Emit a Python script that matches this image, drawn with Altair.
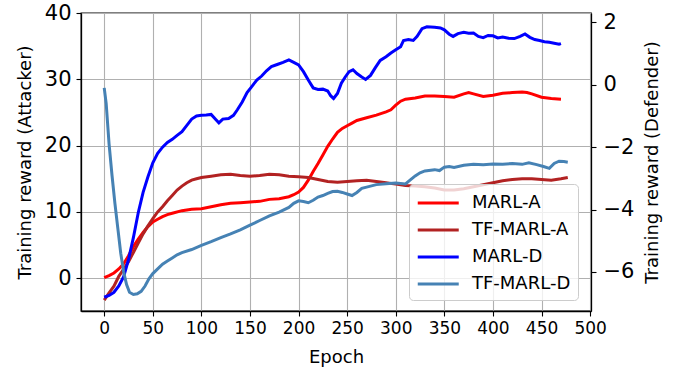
import altair as alt
import pandas as pd

# Series names and colours (legend order)
series_names = ["MARL-A", "TF-MARL-A", "MARL-D", "TF-MARL-D"]
series_colors = ["#ff0000", "#b22222", "#0000ff", "#4682b4"]

# Attacker rewards (left axis)
marl_a_epoch = [0, 5, 10, 15, 20, 25, 30, 35, 40, 45, 50, 55, 60, 65, 70, 80, 90, 100,
                110, 120, 130, 140, 150, 160, 170, 180, 190, 195, 200, 205, 210, 215,
                220, 225, 230, 235, 240, 245, 250, 255, 260, 270, 280, 290, 295, 300,
                305, 310, 320, 330, 340, 350, 360, 370, 375, 380, 390, 400, 410, 420,
                430, 435, 440, 450, 460, 470]
marl_a_reward = [0.1, 0.4, 0.8, 1.4, 2.2, 3.4, 4.8, 5.9, 6.9, 7.8, 8.5, 8.9, 9.3, 9.6,
                 9.8, 10.2, 10.4, 10.5, 10.8, 11.1, 11.3, 11.4, 11.5, 11.6, 11.9, 12.0,
                 12.3, 12.6, 13.0, 13.7, 14.8, 16.1, 17.3, 18.6, 19.9, 21.0, 22.0, 22.6,
                 23.0, 23.4, 23.8, 24.2, 24.6, 25.1, 25.4, 26.1, 26.7, 27.0, 27.2, 27.5,
                 27.5, 27.4, 27.3, 27.8, 28.0, 27.8, 27.4, 27.6, 27.9, 28.0, 28.1, 28.0,
                 27.8, 27.3, 27.1, 27.0]

tf_marl_a_epoch = [0, 5, 10, 15, 20, 25, 30, 35, 40, 45, 50, 55, 60, 65, 70, 75, 80, 85,
                   90, 95, 100, 110, 120, 130, 140, 150, 160, 170, 180, 190, 200, 210,
                   220, 230, 240, 250, 260, 270, 280, 290, 300, 310, 320, 330, 340, 350,
                   360, 370, 380, 390, 400, 410, 420, 430, 440, 450, 460, 470, 477]
tf_marl_a_reward = [-3.3, -2.2, -1.2, 0.3, 1.4, 2.5, 3.9, 5.3, 6.7, 7.9, 9.0, 10.0, 10.8,
                    11.7, 12.5, 13.3, 13.9, 14.4, 14.8, 15.0, 15.2, 15.4, 15.6, 15.7, 15.5,
                    15.4, 15.5, 15.7, 15.6, 15.4, 15.3, 15.2, 14.9, 14.6, 14.5, 14.6, 14.7,
                    14.8, 14.6, 14.4, 14.2, 14.0, 13.9, 13.8, 13.6, 13.3, 13.3, 13.5, 13.8,
                    14.1, 14.4, 14.7, 14.9, 15.0, 15.0, 14.9, 14.8, 15.0, 15.2]

# Defender rewards (right axis)
marl_d_epoch = [0, 5, 10, 15, 20, 25, 30, 35, 40, 45, 50, 55, 60, 65, 70, 75, 80, 85, 90,
                95, 100, 105, 110, 115, 118, 122, 128, 133, 137, 142, 147, 152, 157, 162,
                167, 172, 178, 184, 190, 195, 200, 205, 210, 215, 220, 225, 230, 233, 236,
                240, 244, 248, 252, 256, 260, 265, 269, 274, 279, 284, 290, 295, 300, 305,
                308, 313, 318, 322, 327, 332, 340, 346, 350, 355, 359, 364, 370, 375, 380,
                385, 390, 395, 400, 405, 410, 416, 422, 428, 433, 438, 443, 448, 453, 458,
                463, 468, 470]
marl_d_reward = [-6.81, -6.75, -6.65, -6.45, -6.15, -5.6, -4.9, -4.1, -3.45, -2.95, -2.5,
                 -2.2, -2.0, -1.85, -1.75, -1.62, -1.5, -1.3, -1.1, -1.0, -0.98, -0.97,
                 -0.95, -1.12, -1.22, -1.1, -1.08, -0.98, -0.80, -0.55, -0.25, -0.05, 0.15,
                 0.28, 0.45, 0.58, 0.65, 0.72, 0.80, 0.72, 0.64, 0.42, 0.15, -0.10, -0.15,
                 -0.14, -0.20, -0.35, -0.44, -0.28, 0.05, 0.25, 0.42, 0.48, 0.36, 0.25,
                 0.17, 0.30, 0.55, 0.78, 0.90, 1.02, 1.12, 1.22, 1.42, 1.45, 1.42, 1.55,
                 1.80, 1.86, 1.84, 1.82, 1.76, 1.62, 1.55, 1.64, 1.68, 1.65, 1.66, 1.55,
                 1.51, 1.58, 1.57, 1.50, 1.53, 1.49, 1.48, 1.55, 1.63, 1.52, 1.45, 1.42,
                 1.38, 1.36, 1.33, 1.30, 1.32]

tf_marl_d_epoch = [0, 2, 5, 8, 11, 14, 17, 20, 23, 26, 30, 34, 38, 42, 46, 50, 55, 60, 65,
                   70, 75, 80, 90, 100, 110, 120, 130, 140, 150, 160, 170, 180, 190, 195,
                   200, 205, 210, 215, 220, 225, 230, 235, 240, 245, 250, 255, 260, 265,
                   270, 280, 290, 300, 310, 315, 320, 325, 330, 340, 345, 350, 355, 360,
                   370, 380, 390, 400, 410, 420, 430, 437, 445, 452, 458, 463, 468, 473, 477]
tf_marl_d_reward = [-0.10, -0.6, -1.9, -2.9, -3.8, -4.6, -5.4, -6.0, -6.4, -6.65, -6.72,
                    -6.70, -6.62, -6.45, -6.22, -6.05, -5.90, -5.75, -5.65, -5.55, -5.45,
                    -5.38, -5.28, -5.15, -5.03, -4.90, -4.78, -4.65, -4.50, -4.35, -4.20,
                    -4.08, -3.93, -3.80, -3.72, -3.74, -3.78, -3.70, -3.60, -3.55, -3.48,
                    -3.42, -3.41, -3.45, -3.50, -3.55, -3.45, -3.32, -3.28, -3.20, -3.17,
                    -3.15, -3.18, -3.05, -2.92, -2.82, -2.76, -2.72, -2.75, -2.64, -2.62,
                    -2.65, -2.58, -2.55, -2.56, -2.54, -2.55, -2.52, -2.55, -2.50, -2.56,
                    -2.62, -2.68, -2.52, -2.45, -2.46, -2.48]

# Axis ticks and ranges
epoch_ticks = [0, 50, 100, 150, 200, 250, 300, 350, 400, 450, 500]
attacker_ticks = [0, 10, 20, 30, 40]
defender_ticks = [-6, -4, -2, 0, 2]
epoch_range = [-23.9, 500.9]
attacker_range = [-4.93, 40.0]
defender_range = [-7.25, 2.30]


def frame(name, epochs, rewards):
    return pd.DataFrame({"series": name, "epoch": epochs, "reward": rewards})


data = {
    "MARL-A": frame("MARL-A", marl_a_epoch, marl_a_reward),
    "TF-MARL-A": frame("TF-MARL-A", tf_marl_a_epoch, tf_marl_a_reward),
    "MARL-D": frame("MARL-D", marl_d_epoch, marl_d_reward),
    "TF-MARL-D": frame("TF-MARL-D", tf_marl_d_epoch, tf_marl_d_reward),
}

FONT = "DejaVu Sans"
W, H = 510, 298

x_enc = alt.X(
    "epoch:Q",
    scale=alt.Scale(domain=epoch_range, nice=False, zero=False),
    axis=alt.Axis(
        values=epoch_ticks, title="Epoch", grid=True, labelFontSize=17,
        titleFontSize=18, labelPadding=4, titleY=51, titleBaseline="alphabetic",
        labelFlush=False,
    ),
)

# Legend swatch: a line segment four half-widths long, starting at the entry's left edge
color_enc = alt.Color(
    "series:N",
    scale=alt.Scale(domain=series_names, range=series_colors),
    legend=alt.Legend(
        title=None, orient="none", legendX=328, legendY=171,
        symbolType="M-1,0H3", symbolSize=420, symbolStrokeWidth=3,
        labelFontSize=18, labelFont=FONT, labelOffset=32, rowPadding=6,
        padding=7, fillColor="rgba(255,255,255,0.8)", strokeColor="#cccccc",
        cornerRadius=4, labelLimit=300,
    ),
)

y_att = alt.Y(
    "reward:Q",
    scale=alt.Scale(domain=attacker_range, nice=False, zero=False),
    axis=alt.Axis(
        values=attacker_ticks, title="Training reward (Attacker)", grid=True,
        labelFontSize=21, titleFontSize=18, titleAngle=270, titleX=-56,
        titleY=H / 2, titleAlign="center", titleBaseline="middle", labelPadding=5,
    ),
)

y_def = alt.Y(
    "reward:Q",
    scale=alt.Scale(domain=defender_range, nice=False, zero=False),
    axis=alt.Axis(
        orient="right", values=defender_ticks, title="Training reward (Defender)",
        grid=False, labelFontSize=21, titleFontSize=18, titleAngle=270, titleX=61,
        titleY=H / 2, titleAlign="center", titleBaseline="middle", labelPadding=7,
    ),
)


def line(name, y_enc):
    return alt.Chart(data[name]).mark_line(strokeWidth=3).encode(
        x=x_enc, y=y_enc, color=color_enc
    )


attacker = alt.layer(line("MARL-A", y_att), line("TF-MARL-A", y_att))
defender = alt.layer(line("MARL-D", y_def), line("TF-MARL-D", y_def))

chart = (
    alt.layer(attacker, defender)
    .resolve_scale(y="independent")
    .properties(
        width=W, height=H,
        autosize=alt.AutoSizeParams(type="none"),
        padding={"left": 81, "top": 13, "right": 94, "bottom": 60},
    )
    .configure(font=FONT)
    .configure_view(stroke="black", strokeWidth=1.3)
    .configure_axis(
        labelFont=FONT, titleFont=FONT, labelColor="black", titleColor="black",
        titleFontWeight="normal", domainColor="black", domainWidth=1.3,
        tickColor="black", tickWidth=1.1, tickSize=5,
        gridColor="#b0b0b0", gridWidth=1.1,
    )
)

chart.save("out.html", embed_options={"renderer": "svg", "actions": False})
